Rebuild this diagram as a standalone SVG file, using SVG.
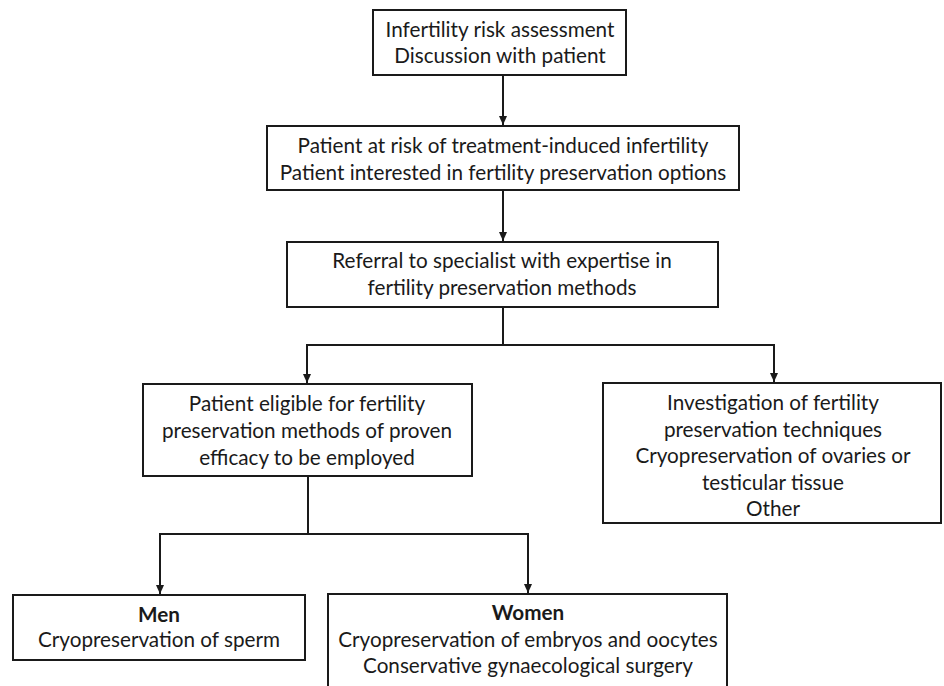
<svg xmlns="http://www.w3.org/2000/svg" width="944" height="686" viewBox="0 0 944 686">
<defs>
<marker id="ah" markerWidth="10" markerHeight="10" refX="9" refY="5" orient="auto" markerUnits="userSpaceOnUse">
<path d="M0,1 L9,5 L0,9 Z" fill="#1a1a1a"/>
</marker>
<style>
.box{fill:#fff;stroke:#1a1a1a;stroke-width:2}
.t{font-family:Lato,"Open Sans","Liberation Sans",sans-serif;font-size:20.7px;fill:#1a1a1a;text-anchor:middle}
.b{font-weight:bold}
.c{fill:none;stroke:#1a1a1a;stroke-width:2}
</style>
</defs>
<rect width="944" height="686" fill="#fff"/>
<g id="connectors">
<line class="c" x1="503" y1="75" x2="503" y2="125" marker-end="url(#ah)"/>
<line class="c" x1="503" y1="190" x2="503" y2="241" marker-end="url(#ah)"/>
<polyline class="c" points="503,307 503,345"/>
<polyline class="c" points="307,383 307,345 774,345 774,382" marker-end="url(#ah)"/>
<line class="c" x1="307" y1="345" x2="307" y2="383" marker-end="url(#ah)"/>
<polyline class="c" points="308,476 308,534"/>
<polyline class="c" points="160,594 160,534 528,534 528,593" marker-end="url(#ah)"/>
<line class="c" x1="160" y1="534" x2="160" y2="594" marker-end="url(#ah)"/>
</g>
<g id="n1">
<rect class="box" x="373" y="10" width="253" height="65"/>
<text class="t" x="500" y="37">Infertility risk assessment</text>
<text class="t" x="500" y="63">Discussion with patient</text>
</g>
<g id="n2">
<rect class="box" x="267" y="126" width="472" height="64"/>
<text class="t" x="503" y="153">Patient at risk of treatment-induced infertility</text>
<text class="t" x="503" y="180">Patient interested in fertility preservation options</text>
</g>
<g id="n3">
<rect class="box" x="287" y="242" width="431" height="65"/>
<text class="t" x="502" y="268">Referral to specialist with expertise in</text>
<text class="t" x="502" y="295">fertility preservation methods</text>
</g>
<g id="n4">
<rect class="box" x="143" y="384" width="329" height="92"/>
<text class="t" x="307" y="411">Patient eligible for fertility</text>
<text class="t" x="307" y="438">preservation methods of proven</text>
<text class="t" x="307" y="465">efficacy to be employed</text>
</g>
<g id="n5">
<rect class="box" x="603" y="383" width="338" height="140"/>
<text class="t" x="773" y="410">Investigation of fertility</text>
<text class="t" x="773" y="437">preservation techniques</text>
<text class="t" x="773" y="463">Cryopreservation of ovaries or</text>
<text class="t" x="773" y="490">testicular tissue</text>
<text class="t" x="773" y="516">Other</text>
</g>
<g id="n6">
<rect class="box" x="13" y="595" width="292" height="65"/>
<text class="t b" x="159" y="622">Men</text>
<text class="t" x="159" y="647">Cryopreservation of sperm</text>
</g>
<g id="n7">
<rect class="box" x="328" y="594" width="399" height="110"/>
<text class="t b" x="528" y="620">Women</text>
<text class="t" x="528" y="647">Cryopreservation of embryos and oocytes</text>
<text class="t" x="528" y="673">Conservative gynaecological surgery</text>
</g>
</svg>
